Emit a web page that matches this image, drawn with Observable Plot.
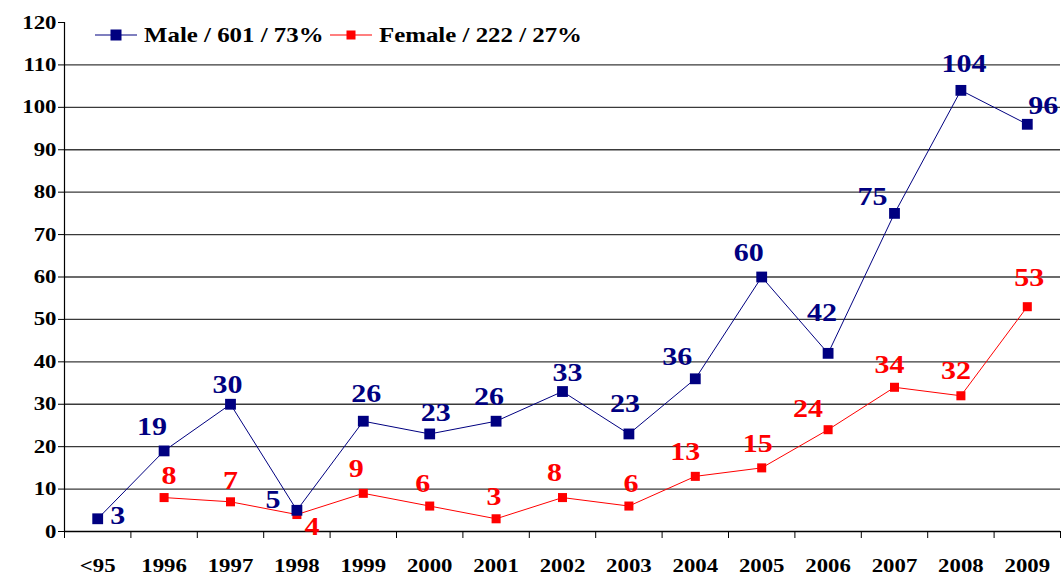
<!DOCTYPE html>
<html>
<head>
<meta charset="utf-8">
<script src="https://cdn.jsdelivr.net/npm/d3@7"></script>
<script src="https://cdn.jsdelivr.net/npm/@observablehq/plot@0.6"></script>
<style>
  html, body { margin: 0; padding: 0; background: #fff; }
  #wrap { position: relative; width: 1062px; height: 577px; }
  #chart svg text { font-weight: bold; }
  .leg { position: absolute; top: 23px; height: 24px; display: flex; align-items: center;
         font-family: "Liberation Serif", "Times New Roman", serif; font-weight: bold; font-size: 22px; color: #000; white-space: nowrap; }
  .leg span { display: inline-block; transform: scaleX(1.13); transform-origin: left center; margin-left: 7px; }
</style>
</head>
<body>
<div id="wrap"><div id="chart"></div></div>
<script>
// ---- data ----
const categories = ["<95", "1996", "1997", "1998", "1999", "2000", "2001", "2002", "2003", "2004", "2005", "2006", "2007", "2008", "2009"];
const male   = [3, 19, 30, 5, 26, 23, 26, 33, 23, 36, 60, 42, 75, 104, 96];
const female = [null, 8, 7, 4, 9, 6, 3, 8, 6, 13, 15, 24, 34, 32, 53];
const seriesNames = ["Male", "Female"];
const yTicks = [0, 10, 20, 30, 40, 50, 60, 70, 80, 90, 100, 110, 120];

// ---- label nudges (pixels, relative to marker) ----
const maleNudge = [[20,-3],[-12,-24],[-3,-19],[-24,-10],[3,-27],[6,-21],[-7,-24],[5,-19],[-4,-30],[-18,-22],[-13,-24],[-6,-40],[-22,-16],[3,-26],[16,-18]];
const femaleNudge = [null,[5,-22],[0,-21],[15,12],[-7,-24],[-7,-22],[-2,-22],[-8,-25],[2,-22],[-10,-24],[-4,-24],[-20,-21],[-5,-22],[-5,-25],[2,-29]];

const NAVY = "#000080", RED = "#ff0000";
const FONT = "'Liberation Serif', 'Times New Roman', serif";

const rows = (vals) => vals.map((v, i) => ({i, v})).filter(d => d.v != null);
const maleRows = rows(male), femaleRows = rows(female);

const labelMarks = (rs, nudge, color) => rs.map(d => Plot.text([d], {
  x: "i", y: "v", text: d => String(d.v),
  dx: nudge[d.i][0], dy: nudge[d.i][1],
  fill: color, fontSize: 25, fontWeight: "bold", textAnchor: "middle", lineAnchor: "middle"
}));

const boundaries = d3.range(-0.5, categories.length, 1);

const svg = Plot.plot({
  width: 1062,
  height: 577,
  marginLeft: 64,
  marginRight: 2,
  marginTop: 22,
  marginBottom: 46,
  style: {fontFamily: FONT, background: "#fff", color: "#000", overflow: "visible"},
  x: {type: "linear", domain: [-0.5, categories.length - 0.5]},
  y: {domain: [0, 120]},
  marks: [
    Plot.gridY(yTicks.filter(t => t > 0 && t < 120), {stroke: "#3a3a3a", strokeOpacity: 1, strokeWidth: 1.3}),
    Plot.axisY({ticks: yTicks, tickSize: 6, tickPadding: 2, fontSize: 19, fontWeight: "bold", label: null, stroke: "#000"}),
    Plot.axisX({ticks: boundaries, tickSize: 7, tickFormat: () => "", label: null, stroke: "#000"}),
    Plot.axisX({ticks: d3.range(categories.length), tickSize: 0, tickPadding: 27, tickFormat: i => categories[i], fontSize: 19, fontWeight: "bold", label: null}),
    Plot.ruleX([-0.5], {stroke: "#000", strokeWidth: 1.2}),
    Plot.ruleY([0], {stroke: "#000", strokeWidth: 1.6}),
    Plot.line(femaleRows, {x: "i", y: "v", stroke: RED, strokeWidth: 1}),
    Plot.line(maleRows, {x: "i", y: "v", stroke: NAVY, strokeWidth: 1}),
    Plot.dot(femaleRows, {x: "i", y: "v", symbol: "square", r: 5.1, fill: RED, stroke: "none"}),
    Plot.dot(maleRows, {x: "i", y: "v", symbol: "square", r: 6.1, fill: NAVY, stroke: "none"}),
    ...labelMarks(femaleRows, femaleNudge, RED),
    ...labelMarks(maleRows, maleNudge, NAVY)
  ]
});

// stretch text horizontally like the original rendering
d3.select(svg).selectAll("text").each(function() {
  const big = this.closest("g") && +getComputedStyle(this).fontSize.replace("px", "") > 22;
  const k = big ? 1.15 : 1.2;
  const t = this.getAttribute("transform");
  if (t) this.setAttribute("transform", t + ` scale(${k},1)`);
  else {
    const x = +this.getAttribute("x") || 0, y = +this.getAttribute("y") || 0;
    this.setAttribute("transform", `translate(${x},${y}) scale(${k},1) translate(${-x},${-y})`);
  }
});

document.getElementById("chart").appendChild(svg);

// legend
const total = d3.sum(male) + d3.sum(female);
const legendItems = [
  {name: seriesNames[0], vals: male, color: NAVY, size: 11, left: 95},
  {name: seriesNames[1], vals: female, color: RED, size: 9, left: 330}
];
const wrap = document.getElementById("wrap");
for (const it of legendItems) {
  const s = d3.sum(it.vals);
  const div = document.createElement("div");
  div.className = "leg";
  div.style.left = it.left + "px";
  const sw = d3.create("svg").attr("width", 42).attr("height", 14);
  sw.append("line").attr("x1", 0).attr("x2", 42).attr("y1", 7).attr("y2", 7).attr("stroke", it.color).attr("stroke-width", 1.2);
  sw.append("rect").attr("x", 21 - it.size / 2).attr("y", 7 - it.size / 2).attr("width", it.size).attr("height", it.size).attr("fill", it.color);
  div.appendChild(sw.node());
  const span = document.createElement("span");
  span.textContent = `${it.name} / ${s} / ${Math.round(100 * s / total)}%`;
  div.appendChild(span);
  wrap.appendChild(div);
}
</script>
</body>
</html>
